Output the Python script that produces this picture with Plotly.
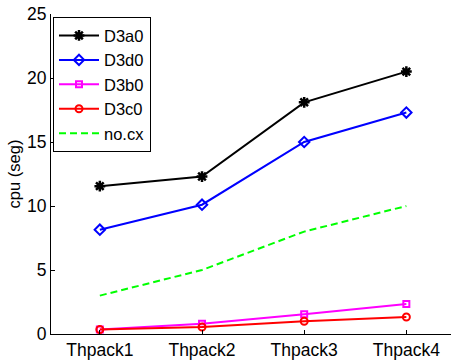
import plotly.graph_objects as go

categories = ["Thpack1", "Thpack2", "Thpack3", "Thpack4"]
x_pos = [1, 2, 3, 4]
d3a0 = [11.55, 12.3, 18.1, 20.5]
d3d0 = [8.15, 10.1, 15.0, 17.3]
d3b0 = [0.35, 0.8, 1.55, 2.35]
d3c0 = [0.35, 0.55, 1.0, 1.33]
nocx = [3.0, 5.0, 8.0, 10.0]

fig = go.Figure()
fig.add_trace(go.Scatter(x=x_pos, y=d3a0, name="D3a0", mode="lines+markers",
                         line=dict(color="black", width=2),
                         marker=dict(symbol="asterisk-open", size=9, line=dict(width=2.5, color="black"))))
fig.add_trace(go.Scatter(x=x_pos, y=d3d0, name="D3d0", mode="lines+markers",
                         line=dict(color="#0000ff", width=2),
                         marker=dict(symbol="diamond-open", size=8, line=dict(width=2, color="#0000ff"))))
fig.add_trace(go.Scatter(x=x_pos, y=d3b0, name="D3b0", mode="lines+markers",
                         line=dict(color="#ff00ff", width=2),
                         marker=dict(symbol="square-open", size=6, line=dict(width=2, color="#ff00ff"))))
fig.add_trace(go.Scatter(x=x_pos, y=d3c0, name="D3c0", mode="lines+markers",
                         line=dict(color="#ff0000", width=2),
                         marker=dict(symbol="circle-open", size=7, line=dict(width=2, color="#ff0000"))))
fig.add_trace(go.Scatter(x=x_pos, y=nocx, name="no.cx", mode="lines",
                         line=dict(color="#00ff00", width=2, dash="7px,4px")))

fig.update_layout(
    width=451, height=363,
    margin=dict(l=51, r=0, t=14, b=28.5),
    paper_bgcolor="white", plot_bgcolor="white",
    font=dict(family="Liberation Sans, Arial, sans-serif", size=17.5, color="black"),
    showlegend=True,
    legend=dict(x=0.005, y=0.99, xanchor="left", yanchor="top",
                bordercolor="black", borderwidth=1, bgcolor="white",
                font=dict(size=16.5), itemwidth=40),
    xaxis=dict(range=[0.522, 4.437], tickmode="array", tickvals=x_pos, ticktext=categories,
               showline=True, linecolor="black", linewidth=1, ticks="inside", ticklen=4,
               tickcolor="black", showgrid=False, zeroline=False, tickfont=dict(size=17.5)),
    yaxis=dict(range=[0, 25], tickvals=[0, 5, 10, 15, 20, 25],
               showline=True, linecolor="black", linewidth=1, ticks="inside", ticklen=4,
               tickcolor="black", showgrid=False, zeroline=False, tickfont=dict(size=17.5),
               title=dict(text="cpu (seg)", font=dict(size=16.5), standoff=2)),
)

fig.write_html("out.html")
